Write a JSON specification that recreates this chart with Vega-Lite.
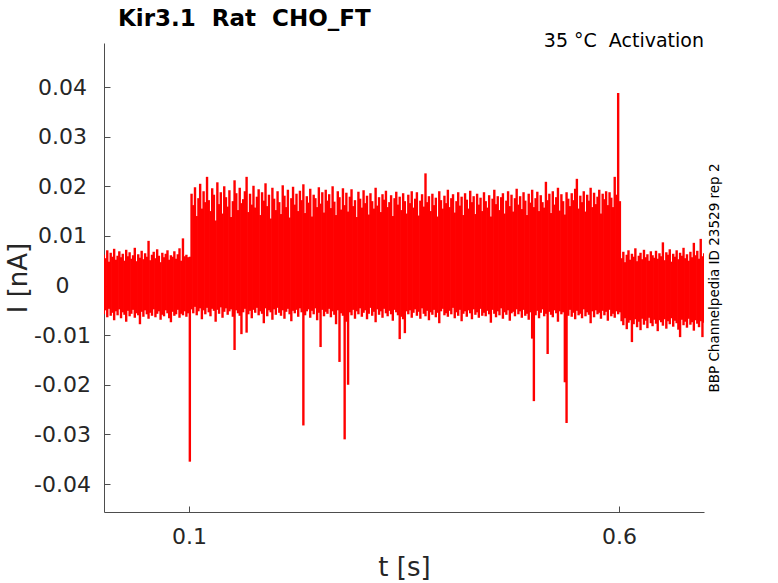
{
  "$schema": "https://vega.github.io/schema/vega-lite/v6.json",
  "description": "Kir3.1 Rat CHO_FT, 35 C activation current traces (per-column envelope of the overlaid sweeps)",
  "width": 600,
  "height": 469,
  "autosize": {"type": "none"},
  "padding": {"left": 104, "top": 43, "right": 74, "bottom": 71},
  "background": "white",
  "config": {
    "view": {"stroke": null},
    "font": "DejaVu Sans",
    "axis": {
      "grid": false,
      "domainColor": "#4d4d4d",
      "domainWidth": 1,
      "tickColor": "#4d4d4d",
      "tickSize": -6,
      "labelColor": "#262626",
      "labelFontSize": 22,
      "titleColor": "#262626",
      "titleFontSize": 26,
      "titleFontWeight": "normal"
    }
  },
  "data": {
    "values": [
      {"t":0.001,"lo":-0.0058,"hi":0.0062},{"t":0.003,"lo":-0.0050,"hi":0.0055},{"t":0.005,"lo":-0.0064,"hi":0.0071},{"t":0.007,"lo":-0.0047,"hi":0.0048},
      {"t":0.009,"lo":-0.0061,"hi":0.0066},{"t":0.011,"lo":-0.0055,"hi":0.0058},{"t":0.013,"lo":-0.0070,"hi":0.0074},{"t":0.015,"lo":-0.0052,"hi":0.0052},
      {"t":0.017,"lo":-0.0060,"hi":0.0060},{"t":0.019,"lo":-0.0048,"hi":0.0069},{"t":0.021,"lo":-0.0066,"hi":0.0057},{"t":0.023,"lo":-0.0054,"hi":0.0064},
      {"t":0.025,"lo":-0.0059,"hi":0.0050},{"t":0.027,"lo":-0.0073,"hi":0.0072},{"t":0.029,"lo":-0.0051,"hi":0.0059},{"t":0.031,"lo":-0.0062,"hi":0.0067},
      {"t":0.033,"lo":-0.0057,"hi":0.0054},{"t":0.035,"lo":-0.0049,"hi":0.0061},{"t":0.037,"lo":-0.0065,"hi":0.0076},{"t":0.039,"lo":-0.0056,"hi":0.0049},
      {"t":0.041,"lo":-0.0060,"hi":0.0063},{"t":0.043,"lo":-0.0078,"hi":0.0056},{"t":0.045,"lo":-0.0053,"hi":0.0070},{"t":0.047,"lo":-0.0063,"hi":0.0053},
      {"t":0.049,"lo":-0.0050,"hi":0.0065},{"t":0.051,"lo":-0.0058,"hi":0.0058},{"t":0.053,"lo":-0.0067,"hi":0.0090},{"t":0.055,"lo":-0.0055,"hi":0.0051},
      {"t":0.057,"lo":-0.0061,"hi":0.0062},{"t":0.059,"lo":-0.0048,"hi":0.0068},{"t":0.061,"lo":-0.0064,"hi":0.0055},{"t":0.063,"lo":-0.0057,"hi":0.0073},
      {"t":0.065,"lo":-0.0052,"hi":0.0060},{"t":0.067,"lo":-0.0069,"hi":0.0047},{"t":0.069,"lo":-0.0059,"hi":0.0066},{"t":0.071,"lo":-0.0062,"hi":0.0057},
      {"t":0.073,"lo":-0.0050,"hi":0.0064},{"t":0.075,"lo":-0.0056,"hi":0.0071},{"t":0.077,"lo":-0.0066,"hi":0.0052},{"t":0.079,"lo":-0.0074,"hi":0.0061},
      {"t":0.081,"lo":-0.0053,"hi":0.0058},{"t":0.083,"lo":-0.0061,"hi":0.0069},{"t":0.085,"lo":-0.0058,"hi":0.0054},{"t":0.087,"lo":-0.0049,"hi":0.0063},
      {"t":0.089,"lo":-0.0065,"hi":0.0075},{"t":0.091,"lo":-0.0057,"hi":0.0050},{"t":0.093,"lo":-0.0060,"hi":0.0095},{"t":0.095,"lo":-0.0052,"hi":0.0059},
      {"t":0.097,"lo":-0.0063,"hi":0.0062},{"t":0.099,"lo":-0.0056,"hi":0.0057},{"t":0.101,"lo":-0.0355,"hi":0.0058},

      {"t":0.103,"lo":-0.0048,"hi":0.0185},{"t":0.105,"lo":-0.0056,"hi":0.0162},{"t":0.107,"lo":-0.0043,"hi":0.0198},{"t":0.109,"lo":-0.0060,"hi":0.0140},
      {"t":0.111,"lo":-0.0052,"hi":0.0176},{"t":0.113,"lo":-0.0046,"hi":0.0205},{"t":0.115,"lo":-0.0068,"hi":0.0155},{"t":0.117,"lo":-0.0050,"hi":0.0190},
      {"t":0.119,"lo":-0.0058,"hi":0.0168},{"t":0.121,"lo":-0.0045,"hi":0.0219},
      {"t":0.123,"lo":-0.0054,"hi":0.0172},{"t":0.125,"lo":-0.0062,"hi":0.0150},{"t":0.127,"lo":-0.0047,"hi":0.0196},{"t":0.129,"lo":-0.0051,"hi":0.0183},
      {"t":0.131,"lo":-0.0073,"hi":0.0131},{"t":0.133,"lo":-0.0049,"hi":0.0208},{"t":0.135,"lo":-0.0057,"hi":0.0164},{"t":0.137,"lo":-0.0044,"hi":0.0188},
      {"t":0.139,"lo":-0.0065,"hi":0.0145},{"t":0.141,"lo":-0.0053,"hi":0.0200},
      {"t":0.143,"lo":-0.0046,"hi":0.0178},{"t":0.145,"lo":-0.0059,"hi":0.0159},{"t":0.147,"lo":-0.0052,"hi":0.0192},{"t":0.149,"lo":-0.0048,"hi":0.0138},
      {"t":0.151,"lo":-0.0063,"hi":0.0170},{"t":0.153,"lo":-0.0130,"hi":0.0212},{"t":0.155,"lo":-0.0050,"hi":0.0186},{"t":0.157,"lo":-0.0056,"hi":0.0152},
      {"t":0.159,"lo":-0.0061,"hi":0.0197},{"t":0.161,"lo":-0.0098,"hi":0.0166},
      {"t":0.163,"lo":-0.0054,"hi":0.0174},{"t":0.165,"lo":-0.0047,"hi":0.0190},{"t":0.167,"lo":-0.0095,"hi":0.0219},{"t":0.169,"lo":-0.0058,"hi":0.0148},
      {"t":0.171,"lo":-0.0051,"hi":0.0185},{"t":0.173,"lo":-0.0066,"hi":0.0163},{"t":0.175,"lo":-0.0049,"hi":0.0201},{"t":0.177,"lo":-0.0055,"hi":0.0157},
      {"t":0.179,"lo":-0.0045,"hi":0.0179},{"t":0.181,"lo":-0.0060,"hi":0.0194},
      {"t":0.183,"lo":-0.0052,"hi":0.0142},{"t":0.185,"lo":-0.0057,"hi":0.0188},{"t":0.187,"lo":-0.0076,"hi":0.0171},{"t":0.189,"lo":-0.0046,"hi":0.0206},
      {"t":0.191,"lo":-0.0062,"hi":0.0160},{"t":0.193,"lo":-0.0050,"hi":0.0183},{"t":0.195,"lo":-0.0054,"hi":0.0135},{"t":0.197,"lo":-0.0069,"hi":0.0197},
      {"t":0.199,"lo":-0.0048,"hi":0.0175},{"t":0.201,"lo":-0.0059,"hi":0.0152},
      {"t":0.203,"lo":-0.0045,"hi":0.0190},{"t":0.205,"lo":-0.0055,"hi":0.0168},{"t":0.207,"lo":-0.0061,"hi":0.0144},{"t":0.209,"lo":-0.0050,"hi":0.0202},
      {"t":0.211,"lo":-0.0067,"hi":0.0181},{"t":0.213,"lo":-0.0053,"hi":0.0158},{"t":0.215,"lo":-0.0047,"hi":0.0193},{"t":0.217,"lo":-0.0058,"hi":0.0137},
      {"t":0.219,"lo":-0.0072,"hi":0.0176},{"t":0.221,"lo":-0.0051,"hi":0.0199},
      {"t":0.223,"lo":-0.0056,"hi":0.0163},{"t":0.225,"lo":-0.0049,"hi":0.0185},{"t":0.227,"lo":-0.0063,"hi":0.0150},{"t":0.229,"lo":-0.0046,"hi":0.0191},
      {"t":0.231,"lo":-0.0054,"hi":0.0172},{"t":0.233,"lo":-0.0282,"hi":0.0204},{"t":0.235,"lo":-0.0060,"hi":0.0146},{"t":0.237,"lo":-0.0052,"hi":0.0180},
      {"t":0.239,"lo":-0.0048,"hi":0.0167},{"t":0.241,"lo":-0.0065,"hi":0.0195},
      {"t":0.243,"lo":-0.0051,"hi":0.0139},{"t":0.245,"lo":-0.0058,"hi":0.0183},{"t":0.247,"lo":-0.0046,"hi":0.0176},{"t":0.249,"lo":-0.0070,"hi":0.0158},
      {"t":0.251,"lo":-0.0055,"hi":0.0198},{"t":0.253,"lo":-0.0124,"hi":0.0165},{"t":0.255,"lo":-0.0049,"hi":0.0188},{"t":0.257,"lo":-0.0062,"hi":0.0147},
      {"t":0.259,"lo":-0.0053,"hi":0.0193},{"t":0.261,"lo":-0.0057,"hi":0.0171},
      {"t":0.263,"lo":-0.0047,"hi":0.0184},{"t":0.265,"lo":-0.0064,"hi":0.0156},{"t":0.267,"lo":-0.0052,"hi":0.0200},{"t":0.269,"lo":-0.0059,"hi":0.0169},
      {"t":0.271,"lo":-0.0078,"hi":0.0142},{"t":0.273,"lo":-0.0050,"hi":0.0190},{"t":0.275,"lo":-0.0154,"hi":0.0178},{"t":0.277,"lo":-0.0056,"hi":0.0153},
      {"t":0.279,"lo":-0.0061,"hi":0.0196},{"t":0.281,"lo":-0.0310,"hi":0.0162},
      {"t":0.283,"lo":-0.0073,"hi":0.0187},{"t":0.285,"lo":-0.0200,"hi":0.0149},{"t":0.287,"lo":-0.0054,"hi":0.0179},{"t":0.289,"lo":-0.0060,"hi":0.0194},
      {"t":0.291,"lo":-0.0049,"hi":0.0160},{"t":0.293,"lo":-0.0067,"hi":0.0172},{"t":0.295,"lo":-0.0052,"hi":0.0138},{"t":0.297,"lo":-0.0058,"hi":0.0189},
      {"t":0.299,"lo":-0.0046,"hi":0.0175},{"t":0.301,"lo":-0.0063,"hi":0.0157},
      {"t":0.303,"lo":-0.0055,"hi":0.0192},{"t":0.305,"lo":-0.0050,"hi":0.0166},{"t":0.307,"lo":-0.0068,"hi":0.0181},{"t":0.309,"lo":-0.0057,"hi":0.0143},
      {"t":0.311,"lo":-0.0045,"hi":0.0186},{"t":0.313,"lo":-0.0061,"hi":0.0170},{"t":0.315,"lo":-0.0053,"hi":0.0155},{"t":0.317,"lo":-0.0074,"hi":0.0197},
      {"t":0.319,"lo":-0.0048,"hi":0.0161},{"t":0.321,"lo":-0.0059,"hi":0.0178},
      {"t":0.323,"lo":-0.0052,"hi":0.0148},{"t":0.325,"lo":-0.0065,"hi":0.0184},{"t":0.327,"lo":-0.0047,"hi":0.0173},{"t":0.329,"lo":-0.0056,"hi":0.0191},
      {"t":0.331,"lo":-0.0062,"hi":0.0158},{"t":0.333,"lo":-0.0051,"hi":0.0168},{"t":0.335,"lo":-0.0058,"hi":0.0182},{"t":0.337,"lo":-0.0071,"hi":0.0140},
      {"t":0.339,"lo":-0.0049,"hi":0.0176},{"t":0.341,"lo":-0.0054,"hi":0.0189},
      {"t":0.343,"lo":-0.0060,"hi":0.0163},{"t":0.345,"lo":-0.0108,"hi":0.0179},{"t":0.347,"lo":-0.0063,"hi":0.0152},{"t":0.349,"lo":-0.0068,"hi":0.0186},
      {"t":0.351,"lo":-0.0096,"hi":0.0170},{"t":0.353,"lo":-0.0052,"hi":0.0145},{"t":0.355,"lo":-0.0058,"hi":0.0183},{"t":0.357,"lo":-0.0050,"hi":0.0166},
      {"t":0.359,"lo":-0.0065,"hi":0.0190},{"t":0.361,"lo":-0.0055,"hi":0.0157},
      {"t":0.363,"lo":-0.0048,"hi":0.0175},{"t":0.365,"lo":-0.0061,"hi":0.0188},{"t":0.367,"lo":-0.0053,"hi":0.0141},{"t":0.369,"lo":-0.0067,"hi":0.0171},
      {"t":0.371,"lo":-0.0046,"hi":0.0184},{"t":0.373,"lo":-0.0057,"hi":0.0159},{"t":0.375,"lo":-0.0062,"hi":0.0226},{"t":0.377,"lo":-0.0051,"hi":0.0168},
      {"t":0.379,"lo":-0.0070,"hi":0.0180},{"t":0.381,"lo":-0.0054,"hi":0.0150},
      {"t":0.383,"lo":-0.0059,"hi":0.0185},{"t":0.385,"lo":-0.0049,"hi":0.0162},{"t":0.387,"lo":-0.0064,"hi":0.0177},{"t":0.389,"lo":-0.0055,"hi":0.0139},
      {"t":0.391,"lo":-0.0076,"hi":0.0190},{"t":0.393,"lo":-0.0052,"hi":0.0172},{"t":0.395,"lo":-0.0047,"hi":0.0155},{"t":0.397,"lo":-0.0060,"hi":0.0181},
      {"t":0.399,"lo":-0.0056,"hi":0.0166},{"t":0.401,"lo":-0.0063,"hi":0.0193},
      {"t":0.403,"lo":-0.0051,"hi":0.0158},{"t":0.405,"lo":-0.0058,"hi":0.0176},{"t":0.407,"lo":-0.0045,"hi":0.0184},{"t":0.409,"lo":-0.0066,"hi":0.0147},
      {"t":0.411,"lo":-0.0054,"hi":0.0170},{"t":0.413,"lo":-0.0061,"hi":0.0188},{"t":0.415,"lo":-0.0049,"hi":0.0161},{"t":0.417,"lo":-0.0072,"hi":0.0179},
      {"t":0.419,"lo":-0.0057,"hi":0.0142},{"t":0.421,"lo":-0.0052,"hi":0.0186},
      {"t":0.423,"lo":-0.0063,"hi":0.0173},{"t":0.425,"lo":-0.0050,"hi":0.0155},{"t":0.427,"lo":-0.0056,"hi":0.0191},{"t":0.429,"lo":-0.0068,"hi":0.0168},
      {"t":0.431,"lo":-0.0048,"hi":0.0180},{"t":0.433,"lo":-0.0059,"hi":0.0144},{"t":0.435,"lo":-0.0054,"hi":0.0185},{"t":0.437,"lo":-0.0065,"hi":0.0163},
      {"t":0.439,"lo":-0.0047,"hi":0.0177},{"t":0.441,"lo":-0.0061,"hi":0.0150},
      {"t":0.443,"lo":-0.0055,"hi":0.0188},{"t":0.445,"lo":-0.0062,"hi":0.0170},{"t":0.447,"lo":-0.0051,"hi":0.0157},{"t":0.449,"lo":-0.0058,"hi":0.0182},
      {"t":0.451,"lo":-0.0075,"hi":0.0139},{"t":0.453,"lo":-0.0049,"hi":0.0175},{"t":0.455,"lo":-0.0057,"hi":0.0193},{"t":0.457,"lo":-0.0064,"hi":0.0164},
      {"t":0.459,"lo":-0.0052,"hi":0.0180},{"t":0.461,"lo":-0.0060,"hi":0.0152},
      {"t":0.463,"lo":-0.0046,"hi":0.0178},{"t":0.465,"lo":-0.0067,"hi":0.0186},{"t":0.467,"lo":-0.0054,"hi":0.0145},{"t":0.469,"lo":-0.0059,"hi":0.0171},
      {"t":0.471,"lo":-0.0050,"hi":0.0190},{"t":0.473,"lo":-0.0071,"hi":0.0160},{"t":0.475,"lo":-0.0056,"hi":0.0183},{"t":0.477,"lo":-0.0053,"hi":0.0149},
      {"t":0.479,"lo":-0.0062,"hi":0.0176},{"t":0.481,"lo":-0.0048,"hi":0.0195},
      {"t":0.483,"lo":-0.0058,"hi":0.0163},{"t":0.485,"lo":-0.0052,"hi":0.0180},{"t":0.487,"lo":-0.0065,"hi":0.0154},{"t":0.489,"lo":-0.0049,"hi":0.0188},
      {"t":0.491,"lo":-0.0061,"hi":0.0171},{"t":0.493,"lo":-0.0057,"hi":0.0142},{"t":0.495,"lo":-0.0069,"hi":0.0185},{"t":0.497,"lo":-0.0054,"hi":0.0167},
      {"t":0.499,"lo":-0.0107,"hi":0.0193},{"t":0.501,"lo":-0.0233,"hi":0.0158},
      {"t":0.503,"lo":-0.0060,"hi":0.0176},{"t":0.505,"lo":-0.0051,"hi":0.0189},{"t":0.507,"lo":-0.0066,"hi":0.0150},{"t":0.509,"lo":-0.0055,"hi":0.0182},
      {"t":0.511,"lo":-0.0048,"hi":0.0168},{"t":0.513,"lo":-0.0062,"hi":0.0157},{"t":0.515,"lo":-0.0057,"hi":0.0209},{"t":0.517,"lo":-0.0138,"hi":0.0172},
      {"t":0.519,"lo":-0.0053,"hi":0.0185},{"t":0.521,"lo":-0.0059,"hi":0.0146},
      {"t":0.523,"lo":-0.0064,"hi":0.0190},{"t":0.525,"lo":-0.0050,"hi":0.0163},{"t":0.527,"lo":-0.0056,"hi":0.0178},{"t":0.529,"lo":-0.0073,"hi":0.0197},
      {"t":0.531,"lo":-0.0052,"hi":0.0151},{"t":0.533,"lo":-0.0058,"hi":0.0184},{"t":0.535,"lo":-0.0054,"hi":0.0170},{"t":0.537,"lo":-0.0195,"hi":0.0143},
      {"t":0.539,"lo":-0.0277,"hi":0.0188},{"t":0.541,"lo":-0.0061,"hi":0.0175},
      {"t":0.543,"lo":-0.0049,"hi":0.0160},{"t":0.545,"lo":-0.0063,"hi":0.0186},{"t":0.547,"lo":-0.0055,"hi":0.0172},{"t":0.549,"lo":-0.0068,"hi":0.0195},
      {"t":0.551,"lo":-0.0051,"hi":0.0215},{"t":0.553,"lo":-0.0060,"hi":0.0155},{"t":0.555,"lo":-0.0057,"hi":0.0181},{"t":0.557,"lo":-0.0066,"hi":0.0168},
      {"t":0.559,"lo":-0.0048,"hi":0.0190},{"t":0.561,"lo":-0.0062,"hi":0.0149},
      {"t":0.563,"lo":-0.0054,"hi":0.0183},{"t":0.565,"lo":-0.0059,"hi":0.0171},{"t":0.567,"lo":-0.0076,"hi":0.0197},{"t":0.569,"lo":-0.0052,"hi":0.0158},
      {"t":0.571,"lo":-0.0064,"hi":0.0187},{"t":0.573,"lo":-0.0050,"hi":0.0164},{"t":0.575,"lo":-0.0058,"hi":0.0179},{"t":0.577,"lo":-0.0055,"hi":0.0193},
      {"t":0.579,"lo":-0.0067,"hi":0.0145},{"t":0.581,"lo":-0.0051,"hi":0.0185},
      {"t":0.583,"lo":-0.0060,"hi":0.0174},{"t":0.585,"lo":-0.0053,"hi":0.0190},{"t":0.587,"lo":-0.0071,"hi":0.0162},{"t":0.589,"lo":-0.0049,"hi":0.0188},
      {"t":0.591,"lo":-0.0062,"hi":0.0177},{"t":0.593,"lo":-0.0057,"hi":0.0158},{"t":0.595,"lo":-0.0065,"hi":0.0219},{"t":0.597,"lo":-0.0052,"hi":0.0183},
      {"t":0.599,"lo":-0.0058,"hi":0.0388},{"t":0.601,"lo":-0.0054,"hi":0.0170},

      {"t":0.603,"lo":-0.0072,"hi":0.0055},{"t":0.605,"lo":-0.0080,"hi":0.0068},{"t":0.607,"lo":-0.0066,"hi":0.0047},{"t":0.609,"lo":-0.0088,"hi":0.0062},
      {"t":0.611,"lo":-0.0075,"hi":0.0071},{"t":0.613,"lo":-0.0070,"hi":0.0052},{"t":0.615,"lo":-0.0114,"hi":0.0064},{"t":0.617,"lo":-0.0078,"hi":0.0058},
      {"t":0.619,"lo":-0.0068,"hi":0.0075},{"t":0.621,"lo":-0.0084,"hi":0.0049},{"t":0.623,"lo":-0.0073,"hi":0.0060},{"t":0.625,"lo":-0.0090,"hi":0.0066},
      {"t":0.627,"lo":-0.0067,"hi":0.0053},{"t":0.629,"lo":-0.0079,"hi":0.0072},{"t":0.631,"lo":-0.0071,"hi":0.0057},{"t":0.633,"lo":-0.0086,"hi":0.0063},
      {"t":0.635,"lo":-0.0065,"hi":0.0050},{"t":0.637,"lo":-0.0076,"hi":0.0069},{"t":0.639,"lo":-0.0082,"hi":0.0061},{"t":0.641,"lo":-0.0069,"hi":0.0056},
      {"t":0.643,"lo":-0.0077,"hi":0.0070},{"t":0.645,"lo":-0.0092,"hi":0.0054},{"t":0.647,"lo":-0.0070,"hi":0.0065},{"t":0.649,"lo":-0.0074,"hi":0.0059},
      {"t":0.651,"lo":-0.0081,"hi":0.0087},{"t":0.653,"lo":-0.0068,"hi":0.0051},{"t":0.655,"lo":-0.0087,"hi":0.0067},{"t":0.657,"lo":-0.0072,"hi":0.0062},
      {"t":0.659,"lo":-0.0078,"hi":0.0073},{"t":0.661,"lo":-0.0066,"hi":0.0048},{"t":0.663,"lo":-0.0083,"hi":0.0064},{"t":0.665,"lo":-0.0071,"hi":0.0058},
      {"t":0.667,"lo":-0.0076,"hi":0.0071},{"t":0.669,"lo":-0.0089,"hi":0.0053},{"t":0.671,"lo":-0.0104,"hi":0.0066},{"t":0.673,"lo":-0.0069,"hi":0.0060},
      {"t":0.675,"lo":-0.0080,"hi":0.0076},{"t":0.677,"lo":-0.0073,"hi":0.0055},{"t":0.679,"lo":-0.0085,"hi":0.0063},{"t":0.681,"lo":-0.0067,"hi":0.0050},
      {"t":0.683,"lo":-0.0079,"hi":0.0068},{"t":0.685,"lo":-0.0074,"hi":0.0057},{"t":0.687,"lo":-0.0091,"hi":0.0086},{"t":0.689,"lo":-0.0070,"hi":0.0061},
      {"t":0.691,"lo":-0.0077,"hi":0.0070},{"t":0.693,"lo":-0.0084,"hi":0.0054},{"t":0.695,"lo":-0.0072,"hi":0.0094},{"t":0.697,"lo":-0.0104,"hi":0.0059},
      {"t":0.699,"lo":-0.0075,"hi":0.0065}
    ]
  },
  "layer": [
    {
      "mark": {"type": "rule", "color": "#ff0000", "strokeWidth": 2.4, "clip": true},
      "encoding": {
        "x": {
          "field": "t",
          "type": "quantitative",
          "scale": {"domain": [0.0012, 0.6988], "nice": false, "zero": false},
          "axis": {
            "title": "t [s]",
            "values": [0.1, 0.6],
            "format": ".1f",
            "labelPadding": 20,
            "titlePadding": 7
          }
        },
        "y": {
          "field": "lo",
          "type": "quantitative",
          "scale": {"domain": [-0.04564, 0.04887], "nice": false, "zero": false},
          "axis": {
            "title": "I [nA]",
            "values": [-0.04, -0.03, -0.02, -0.01, 0, 0.01, 0.02, 0.03, 0.04],
            "labelExpr": "datum.value == 0 ? '0' : (datum.value < 0 ? '-' : '') + format(abs(datum.value), '.2f')",
            "labelAlign": "center",
            "labelPadding": 48,
            "titlePadding": 2
          }
        },
        "y2": {"field": "hi"}
      }
    },
    {
      "data": {"values": [{}]},
      "mark": {
        "type": "text",
        "text": "35 °C\u00a0 Activation",
        "align": "right",
        "baseline": "alphabetic",
        "fontSize": 19,
        "color": "black"
      },
      "encoding": {
        "x": {"datum": 0.6988, "type": "quantitative"},
        "y": {
          "datum": 0.04806,
          "type": "quantitative",
          "axis": {
            "orient": "right",
            "title": "BBP Channelpedia ID 23529 rep 2",
            "titleFontSize": 13.5,
            "titleColor": "black",
            "titleAngle": 270,
            "titleBaseline": "top",
            "titlePadding": 3,
            "labels": false,
            "ticks": false,
            "domain": false
          }
        }
      }
    },
    {
      "data": {"values": [{}]},
      "mark": {
        "type": "text",
        "text": "Kir3.1\u00a0 Rat\u00a0 CHO_FT",
        "align": "left",
        "baseline": "alphabetic",
        "fontSize": 23,
        "fontWeight": "bold",
        "color": "black"
      },
      "encoding": {
        "x": {"datum": 0.0175, "type": "quantitative"},
        "y": {"datum": 0.05229, "type": "quantitative", "axis": null}
      }
    }
  ],
  "resolve": {"axis": {"y": "independent"}}
}
